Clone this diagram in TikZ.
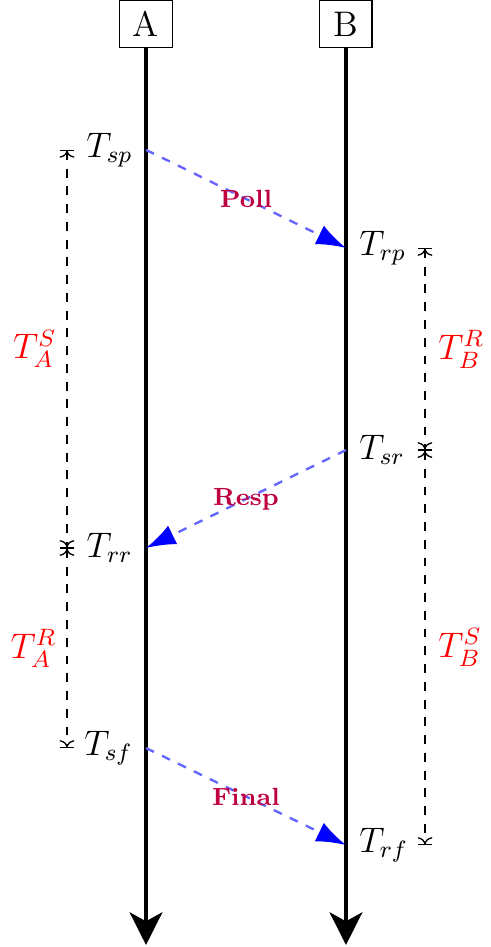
\documentclass[tikz,border=0pt]{standalone}
\usepackage{amsmath}
\usetikzlibrary{arrows.meta, positioning, calc}

\begin{document}
\begin{tikzpicture}[
  every node/.style={font=\large},
  party/.style={rectangle, draw=black, thin, minimum width=0.62cm, minimum height=0.55cm, inner sep=2pt},
  life/.style={-{Stealth[length=11pt, width=11pt, inset=3pt]}, line width=1.6pt},
  msg/.style={dashed, thick, draw=blue!60, -{Latex[color=blue, length=10pt, width=7pt]}},
  msglbl/.style={font=\fontsize{8.4}{10}\selectfont\bfseries, text=purple},
  dim/.style={{Bar[width=5pt]To[length=2.2pt, width=5pt]}-{To[length=2.2pt, width=5pt]Bar[width=5pt]}, dashed, line width=0.45pt},
  dimlbl/.style={text=red}
]
\useasboundingbox (0,0) rectangle (5.82,-11.247);
\node[party] (A) at (1.734,-0.285) {A};
\node[party] (B) at (4.109,-0.285) {B};
\coordinate (Aend) at (1.734,-11.223);
\coordinate (Bend) at (4.109,-11.223);
\draw[life] (A) -- (Aend);
\draw[life] (B) -- (Bend);
% time stamps on the two lines
\coordinate (sp) at (1.734,-1.78);
\coordinate (rp) at (4.109,-2.945);
\coordinate (sr) at (4.109,-5.345);
\coordinate (rr) at (1.734,-6.508);
\coordinate (sf) at (1.734,-8.884);
\coordinate (rf) at (4.109,-10.036);
\node[left=1pt of sp] (Tsp) {$T_{sp}$};
\node[right=1pt of rp] (Trp) {$T_{rp}$};
\node[right=1pt of sr] (Tsr) {$T_{sr}$};
\node[left=1pt of rr] (Trr) {$T_{rr}$};
\node[left=1pt of sf] (Tsf) {$T_{sf}$};
\node[right=1pt of rf] (Trf) {$T_{rf}$};
% messages
\draw[msg] (sp) -- node[msglbl] (poll) {Poll} (rp);
\draw[msg] (sr) -- node[msglbl] (resp) {Resp} (rr);
\draw[msg] (sf) -- node[msglbl] (final) {Final} (rf);
% intervals
\coordinate (dimA) at (0.796,0);
\coordinate (dimB) at (5.047,0);
\draw[dim] (sp -| dimA) -- node[dimlbl, left] (TAS) {$T_A^S$} (rr -| dimA);
\draw[dim] (rr -| dimA) -- node[dimlbl, left] (TAR) {$T_A^R$} (sf -| dimA);
\draw[dim] (rp -| dimB) -- node[dimlbl, right=1pt] (TBR) {$T_B^R$} (sr -| dimB);
\draw[dim] (sr -| dimB) -- node[dimlbl, right=1pt] (TBS) {$T_B^S$} (rf -| dimB);
\end{tikzpicture}
\end{document}
